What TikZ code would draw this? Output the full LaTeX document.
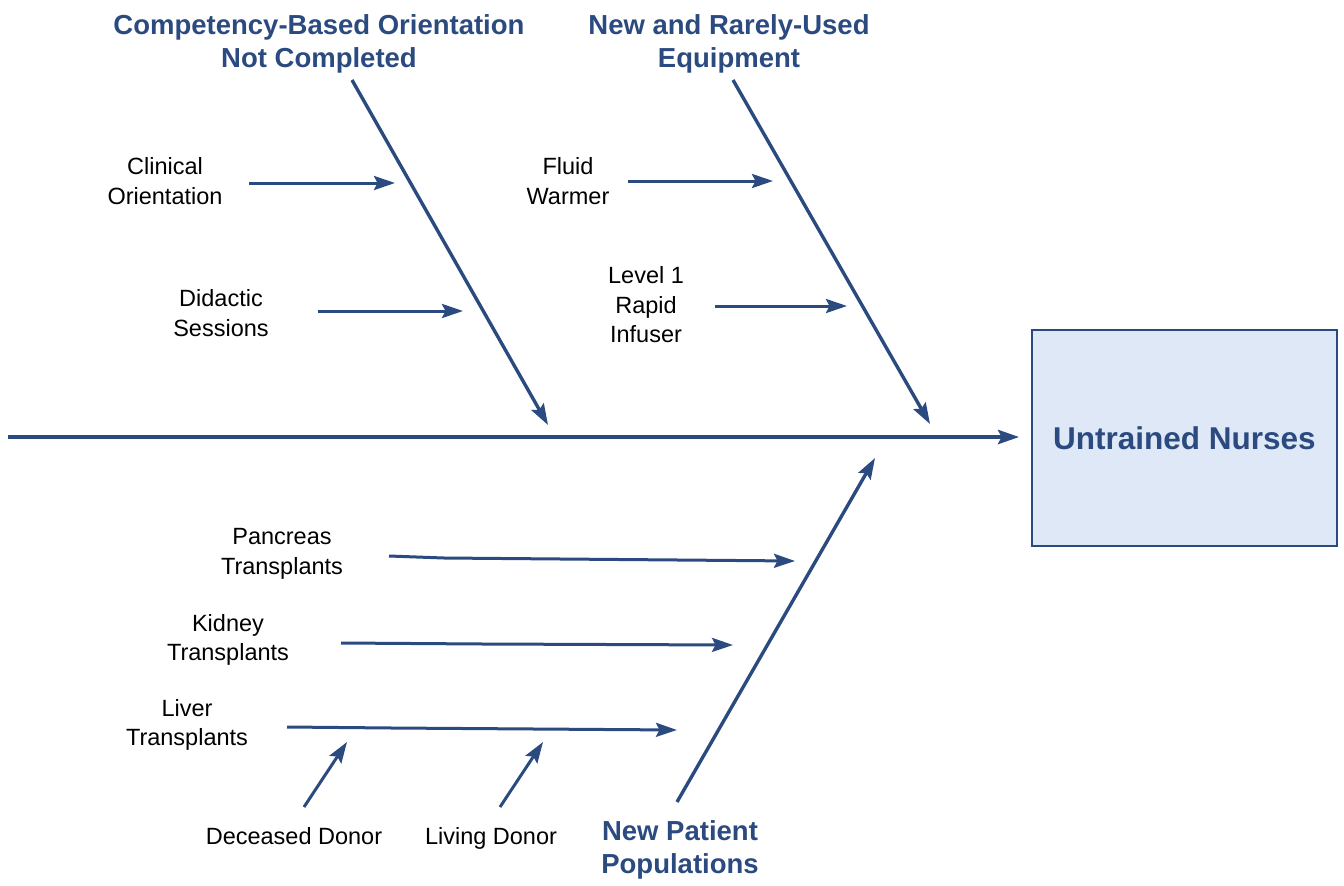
\documentclass[tikz,border=0pt]{standalone}
\usepackage{fontspec}
\setmainfont{Liberation Sans}
\usetikzlibrary{arrows.meta}
\definecolor{navy}{HTML}{2B4A80}
\definecolor{boxfill}{HTML}{DFE8F6}
\begin{document}
\begin{tikzpicture}[x=1pt,y=-1pt,
  head/.style={font=\fontsize{27.5}{33}\selectfont\bfseries, text=navy, align=center, inner sep=0pt},
  lab/.style={font=\fontsize{23.5}{29.5}\selectfont, align=center, inner sep=0pt},
  tip/.style={-{Stealth[length=21pt,width=14pt,inset=3.5pt]}},
  spine/.style={draw=navy, line width=4.8pt, tip},
  bone/.style={draw=navy, line width=3.4pt, tip},
  twig/.style={draw=navy, line width=3pt, tip},
  effect/.style={draw=navy, line width=1.6pt, fill=boxfill, minimum width=305pt, minimum height=216pt,
    font=\fontsize{31.5}{36}\selectfont\bfseries, text=navy, inner sep=0pt},
]
\useasboundingbox (0,0) rectangle (1344,886);

% effect box
\node[effect] (box) at (1184.5,438) {Untrained Nurses};

% spine
\coordinate (sp0) at (8,437);
\draw[spine, shorten >=12pt] (sp0) -- (box.west |- sp0);

% headings
\node[head] (h1) at (319,44) {Competency-Based Orientation\\Not Completed};
\node[head] (h2) at (729,44) {New and Rarely-Used\\Equipment};
\node[head] (h3) at (680,850) {New Patient\\Populations};

% bones
\coordinate (b1s) at (352,80);  \coordinate (b1e) at (548,425);
\coordinate (b2s) at (733,80);  \coordinate (b2e) at (930,424);
\coordinate (b3s) at (677,802); \coordinate (b3e) at (875,458);
\draw[bone] (b1s) -- (b1e);
\draw[bone] (b2s) -- (b2e);
\draw[bone] (b3s) -- (b3e);

% cause labels
\node[lab] (clin) at (165,181) {Clinical\\Orientation};
\node[lab] (did) at (221,313) {Didactic\\Sessions};
\node[lab] (fluid) at (568,181) {Fluid\\Warmer};
\node[lab] (lev) at (646,305) {Level 1\\Rapid\\Infuser};
\node[lab] (panc) at (282,554) {Pancreas\\Transplants};
\node[lab] (kid) at (228,640) {Kidney\\Transplants};
\node[lab] (liv) at (187,725) {Liver\\Transplants};
\node[lab, anchor=base] (dec) at (294,844) {Deceased Donor};
\node[lab, anchor=base] (livd) at (491,844) {Living Donor};

% twigs
\coordinate (t1s) at (249,183); \coordinate (t1e) at (395,183);
\coordinate (t2s) at (318,311); \coordinate (t2e) at (463,311);
\coordinate (t3s) at (628,181); \coordinate (t3e) at (773,181);
\coordinate (t4s) at (715,306); \coordinate (t4e) at (847,306);
\coordinate (t5s) at (389,556); \coordinate (t5m) at (444,558); \coordinate (t5e) at (795,561);
\coordinate (t6s) at (341,643); \coordinate (t6m) at (483,644); \coordinate (t6e) at (733,645);
\coordinate (t7s) at (287,727); \coordinate (t7m) at (392,728); \coordinate (t7e) at (677,730);
\coordinate (d1s) at (304,807); \coordinate (d1e) at (347,742);
\coordinate (d2s) at (500,807); \coordinate (d2e) at (543,742);

\draw[twig] (t1s) -- (t1e);
\draw[twig] (t2s) -- (t2e);
\draw[twig] (t3s) -- (t3e);
\draw[twig] (t4s) -- (t4e);
\draw[twig] (t5s) -- (t5m) -- (t5e);
\draw[twig] (t6s) -- (t6m) -- (t6e);
\draw[twig] (t7s) -- (t7m) -- (t7e);
\draw[twig] (d1s) -- (d1e);
\draw[twig] (d2s) -- (d2e);
\end{tikzpicture}
\end{document}
